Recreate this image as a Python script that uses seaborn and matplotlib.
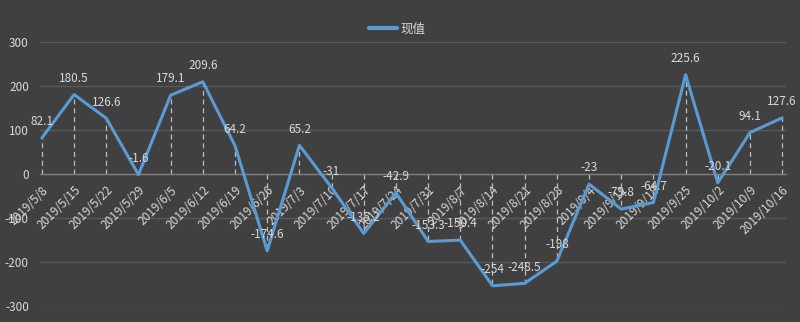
import matplotlib
matplotlib.use("Agg")
import matplotlib.pyplot as plt
import seaborn as sns
import pandas as pd

dates = ["2019/5/8", "2019/5/15", "2019/5/22", "2019/5/29", "2019/6/5", "2019/6/12",
         "2019/6/19", "2019/6/26", "2019/7/3", "2019/7/10", "2019/7/17", "2019/7/24",
         "2019/7/31", "2019/8/7", "2019/8/14", "2019/8/21", "2019/8/28", "2019/9/4",
         "2019/9/11", "2019/9/18", "2019/9/25", "2019/10/2", "2019/10/9", "2019/10/16"]
values = [82.1, 180.5, 126.6, -1.6, 179.1, 209.6, 64.2, -174.6, 65.2, -31, -135.2, -42.9,
          -153.3, -150.4, -254, -248.5, -198, -23, -79.8, -64.7, 225.6, -20.1, 94.1, 127.6]
labels = ["82.1", "180.5", "126.6", "-1.6", "179.1", "209.6", "64.2", "-174.6", "65.2", "-31",
          "-135.2", "-42.9", "-153.3", "-150.4", "-254", "-248.5", "-198", "-23", "-79.8",
          "-64.7", "225.6", "-20.1", "94.1", "127.6"]
series_name = "现值"
yticks = [-300, -200, -100, 0, 100, 200, 300]

BG = "#404040"
TXT = "#d9d9d9"
GRID = "#595959"
LINE = "#5b9bd5"

sns.set_theme(style="dark")
plt.rcParams['font.family'] = ['Noto Sans CJK SC', 'DejaVu Sans']

df = pd.DataFrame({"x": range(len(dates)), "value": values, "series": series_name})

fig = plt.figure(figsize=(8, 3.22), dpi=100)
fig.patch.set_facecolor(BG)
ax = fig.add_axes([0.05, 0.0497, 0.9325, 0.8199])
ax.set_facecolor(BG)

# gridlines
for yv in yticks:
    ax.axhline(yv, color=GRID, lw=1, zorder=0)

# drop lines
for i, v in enumerate(values):
    ax.plot([i, i], [0, v], color="#bfbfbf", lw=0.9, ls=(0, (4, 3)), zorder=1)

sns.lineplot(data=df, x="x", y="value", hue="series", palette=[LINE], lw=2.2,
             ax=ax, zorder=3, sort=False)

for i, (v, lab) in enumerate(zip(values, labels)):
    ax.annotate(lab, (i, v), xytext=(0, 7), textcoords="offset points",
                ha="center", va="bottom", color=TXT, fontsize=8.5, zorder=4)

for s in ["top", "right", "left"]:
    ax.spines[s].set_visible(False)
ax.spines["bottom"].set_position(("data", 0))
ax.spines["bottom"].set_color("#7f7f7f")
ax.spines["bottom"].set_linewidth(1)

ax.set_ylim(-300, 300)
ax.set_xlim(-0.06, 23.12)
ax.set_yticks(yticks)
ax.set_yticklabels([str(t) for t in yticks], color=TXT, fontsize=8.5)
ax.set_xticks(range(len(dates)))
ax.set_xticklabels(dates, rotation=45, ha="right", rotation_mode="anchor",
                   color=TXT, fontsize=8.5)
ax.tick_params(axis="y", length=0, pad=8)
ax.tick_params(axis="x", length=4, color=GRID, pad=3, direction="out")
ax.set_xlabel("")
ax.set_ylabel("")

leg = ax.legend(loc="center", bbox_to_anchor=(0.479, 1.05), frameon=False,
                fontsize=9, handlelength=2.2, handletextpad=0.3)
for t in leg.get_texts():
    t.set_color(TXT)
for h in leg.get_lines():
    h.set_linewidth(3)

fig.savefig("out.png", dpi=100, facecolor=BG)
